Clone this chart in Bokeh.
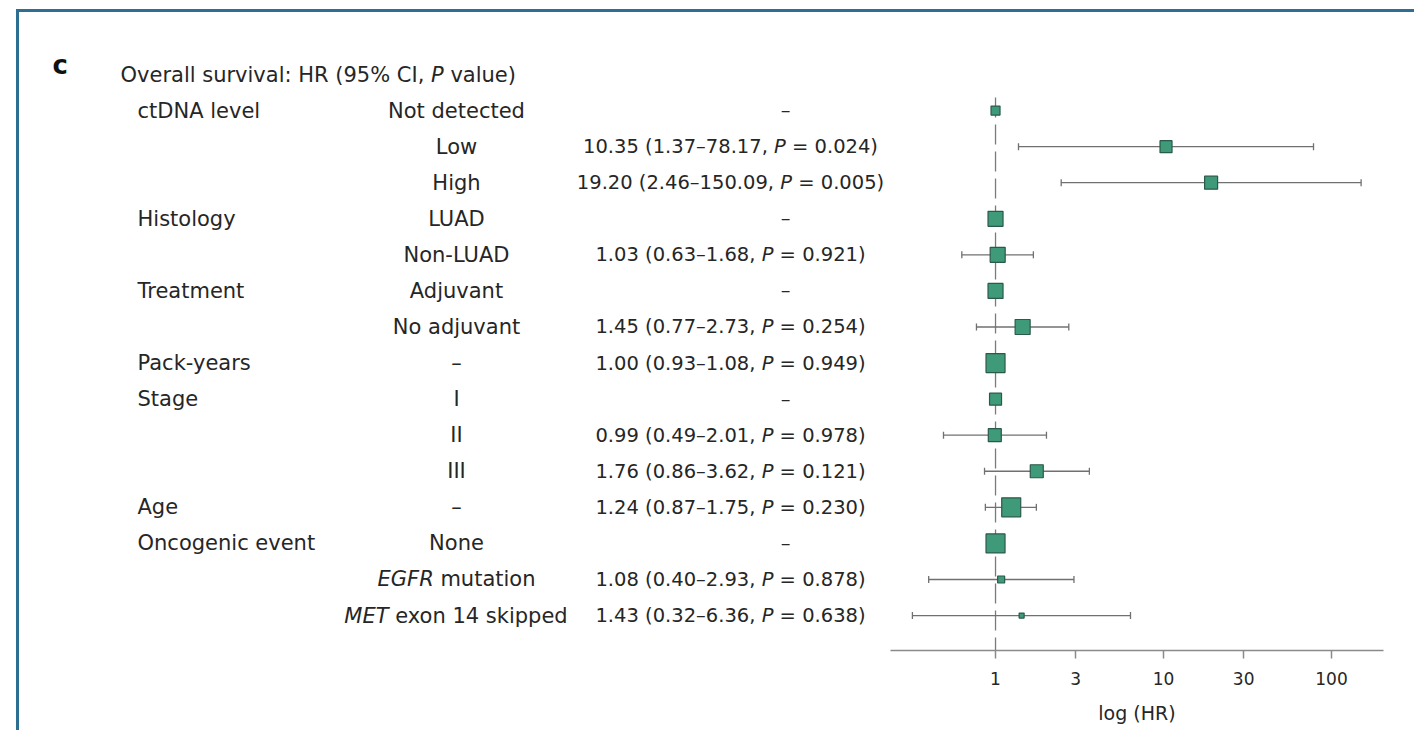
from bokeh.plotting import figure
from bokeh.layouts import row
from bokeh.models import (ColumnDataSource, Range1d, FixedTicker, NumeralTickFormatter,
                          Whisker, TeeHead)
from bokeh.core.properties import value
from bokeh.embed import file_html
from bokeh.resources import INLINE

# ---------------- data ----------------
panel_letter = "c"
title_pre = "Overall survival: HR (95% CI, "
title_ital = "P"
title_post = " value)"

groups = ["ctDNA level", "", "", "Histology", "", "Treatment", "", "Pack-years",
          "Stage", "", "", "Age", "Oncogenic event", "", ""]
level_ital = ["", "", "", "", "", "", "", "", "", "", "", "", "", "EGFR", "MET"]
level_text = ["Not detected", "Low", "High", "LUAD", "Non-LUAD", "Adjuvant", "No adjuvant",
              "–", "I", "II", "III", "–", "None", " mutation", " exon 14 skipped"]
hr = [1.0, 10.35, 19.20, 1.0, 1.03, 1.0, 1.45, 1.00, 1.0, 0.99, 1.76, 1.24, 1.0, 1.08, 1.43]
ci_lo = [None, 1.37, 2.46, None, 0.63, None, 0.77, 0.93, None, 0.49, 0.86, 0.87, None, 0.40, 0.32]
ci_hi = [None, 78.17, 150.09, None, 1.68, None, 2.73, 1.08, None, 2.01, 3.62, 1.75, None, 2.93, 6.36]
p_values = [None, "0.024", "0.005", None, "0.921", None, "0.254", "0.949", None, "0.978",
            "0.121", "0.230", None, "0.878", "0.638"]
weights = [9, 12, 13, 15, 15, 15, 15, 19, 12, 13, 13, 19, 19, 7, 5]
ticks = [1, 3, 10, 30, 100]
x_label = "log (HR)"

# ---------------- style / layout ----------------
FONT = "DejaVu Sans"
FS_LAB = 21
FS_NUM = 19.5
TXT = "#262626"
SQ_FILL = "#3e9a78"
SQ_LINE = "#2a5a4a"
WH_COL = "#707070"
BORDER = "#2d6f93"
NB = "\u00a0"

ROW0 = 62.0      # px from content top to title row centre
ROW_H = 36.07    # px per row
FRAME_BOTTOM = 638.0
H = 718
LEFT_W = 871
RIGHT_W = 524

def r_at(px):
    return (px - ROW0) / ROW_H

# DejaVu Sans advance widths (units per em 2048)
W = {" ": 651, NB: 651, "(": 799, ")": 799, ".": 651, ",": 651, "–": 1024, "=": 1716, ":": 690,
     "%": 1946, "P": 1235, "E": 1294, "G": 1589, "F": 1178, "R": 1423, "M": 1767, "T": 1251,
     "H": 1540, "C": 1430, "I": 604, "O": 1612, "a": 1255, "b": 1300, "c": 1126, "d": 1300,
     "e": 1260, "f": 721, "g": 1300, "h": 1298, "i": 569, "k": 1186, "l": 569, "m": 1995,
     "n": 1298, "o": 1253, "p": 1300, "r": 842, "s": 1067, "t": 803, "u": 1298, "v": 1212,
     "x": 1212}
for d in "0123456789":
    W[d] = 1303

def tw(s, fs):
    return sum(W.get(ch, 1250) for ch in s) / 2048.0 * fs

def nb(s):
    # keep edge spaces visible in SVG text
    if s.startswith(" "):
        s = NB + s[1:]
    if s.endswith(" "):
        s = s[:-1] + NB
    return s

yr = Range1d(r_at(FRAME_BOTTOM), r_at(0))

# ---------------- left (table) figure ----------------
left = figure(width=LEFT_W, height=H, x_range=Range1d(0, LEFT_W), y_range=yr,
              output_backend="svg", toolbar_location=None,
              x_axis_location=None, y_axis_location=None,
              min_border_left=0, min_border_right=0, min_border_top=0,
              min_border_bottom=int(H - FRAME_BOTTOM))
left.grid.visible = False
left.outline_line_color = None

def add_text(src, align="left", style="normal", size=FS_LAB, font=FONT, color=TXT):
    src = dict(src)
    src["t"] = [nb(t) for t in src["t"]]
    left.text(x="x", y="y", text="t", source=ColumnDataSource(src),
              text_font=value(font), text_font_size=f"{size}px", text_font_style=style,
              text_align=align, text_baseline="middle", text_color=color)

# panel letter
add_text(dict(x=[33], y=[-0.25], t=[panel_letter]), style="bold", size=26, font="DejaVu Sans",
         color="#111111")

# title
TX = 101
add_text(dict(x=[TX], y=[0], t=[title_pre]))
add_text(dict(x=[TX + tw(title_pre, FS_LAB)], y=[0], t=[title_ital]), style="italic")
add_text(dict(x=[TX + tw(title_pre, FS_LAB) + tw(title_ital, FS_LAB)], y=[0], t=[title_post]))

rows = [i + 1 for i in range(len(hr))]

# column 1 : groups
g_rows = [r for r, g in zip(rows, groups) if g]
add_text(dict(x=[118] * len(g_rows), y=g_rows, t=[g for g in groups if g]))

# column 2 : levels (centred, with optional italic prefix)
C2 = 437
plain = dict(x=[], y=[], t=[])
ital_a = dict(x=[], y=[], t=[])
rest_b = dict(x=[], y=[], t=[])
for r, it, tx in zip(rows, level_ital, level_text):
    if not it:
        plain["x"].append(C2); plain["y"].append(r); plain["t"].append(tx)
    else:
        wtot = tw(it, FS_LAB) + tw(tx, FS_LAB)
        xb = C2 - wtot / 2 + tw(it, FS_LAB)
        ital_a["x"].append(xb); ital_a["y"].append(r); ital_a["t"].append(it)
        rest_b["x"].append(xb); rest_b["y"].append(r); rest_b["t"].append(tx)
add_text(plain, align="center")
add_text(ital_a, align="right", style="italic")
add_text(rest_b, align="left")

# column 3 : HR (95% CI, P value)
C3 = 711
DASH_X = 766
dash = dict(x=[], y=[], t=[])
sa = dict(x=[], y=[], t=[])
sp = dict(x=[], y=[], t=[])
sb = dict(x=[], y=[], t=[])
for r, h, lo, hi, pv in zip(rows, hr, ci_lo, ci_hi, p_values):
    if lo is None:
        dash["x"].append(DASH_X); dash["y"].append(r); dash["t"].append("–")
        continue
    a = f"{h:.2f} ({lo:.2f}–{hi:.2f}, "
    b = f" = {pv})"
    wtot = tw(a, FS_NUM) + tw("P", FS_NUM) + tw(b, FS_NUM)
    xp = C3 - wtot / 2 + tw(a, FS_NUM)
    sa["x"].append(xp); sa["y"].append(r); sa["t"].append(a)
    sp["x"].append(xp); sp["y"].append(r); sp["t"].append("P")
    sb["x"].append(xp + tw("P", FS_NUM)); sb["y"].append(r); sb["t"].append(b)
add_text(dash, align="center", size=FS_NUM)
add_text(sa, align="right", size=FS_NUM)
add_text(sp, align="left", style="italic", size=FS_NUM)
add_text(sb, align="left", size=FS_NUM)

# ---------------- right (forest) figure ----------------
right = figure(width=RIGHT_W, height=H, x_axis_type="log", x_range=Range1d(0.237, 204),
               y_range=yr, output_backend="svg", toolbar_location=None, y_axis_location=None,
               min_border_left=0, min_border_right=31, min_border_top=0,
               min_border_bottom=int(H - FRAME_BOTTOM))
right.grid.visible = False
right.outline_line_color = None

# reference line at HR = 1, starting half a row above the first data row
right.segment(x0=[1], x1=[1], y0=[rows[0] - 0.36], y1=[r_at(FRAME_BOTTOM)],
              line_color="#7a7a7a", line_width=1.3, line_dash="20 7")

ci_rows = [r for r, lo in zip(rows, ci_lo) if lo is not None]
wsrc = ColumnDataSource(dict(y=ci_rows,
                             lo=[v for v in ci_lo if v is not None],
                             hi=[v for v in ci_hi if v is not None]))
wh = Whisker(source=wsrc, base="y", lower="lo", upper="hi", dimension="width",
             line_color=WH_COL, line_width=1.3, level="glyph",
             lower_head=TeeHead(size=7, line_color=WH_COL, line_width=1.3),
             upper_head=TeeHead(size=7, line_color=WH_COL, line_width=1.3))
right.add_layout(wh)

sq = right.scatter(x="hr", y="y", size="s", marker="square",
                   source=ColumnDataSource(dict(hr=hr, y=rows, s=weights)),
                   fill_color=SQ_FILL, line_color=SQ_LINE, line_width=1.2)
sq.level = "overlay"

ax = right.xaxis[0]
ax.ticker = FixedTicker(ticks=ticks)
ax.formatter = NumeralTickFormatter(format="0")
ax.minor_tick_line_color = None
ax.major_tick_in = 0
ax.major_tick_out = 8
ax.axis_line_color = "#8a8a8a"
ax.axis_line_width = 1.5
ax.major_tick_line_color = "#8a8a8a"
ax.major_tick_line_width = 1.5
ax.major_label_text_font = FONT
ax.major_label_text_font_size = "17px"
ax.major_label_text_color = TXT
ax.major_label_standoff = 13
ax.axis_label = x_label
ax.axis_label_text_font = FONT
ax.axis_label_text_font_size = "19px"
ax.axis_label_text_font_style = "normal"
ax.axis_label_text_color = TXT
ax.axis_label_standoff = 14

layout = row(left, right, margin=(9, 0, 0, 16),
             styles={"border-left": f"3px solid {BORDER}", "border-top": f"3px solid {BORDER}"})

open("out.html", "w").write(file_html(layout, INLINE))
